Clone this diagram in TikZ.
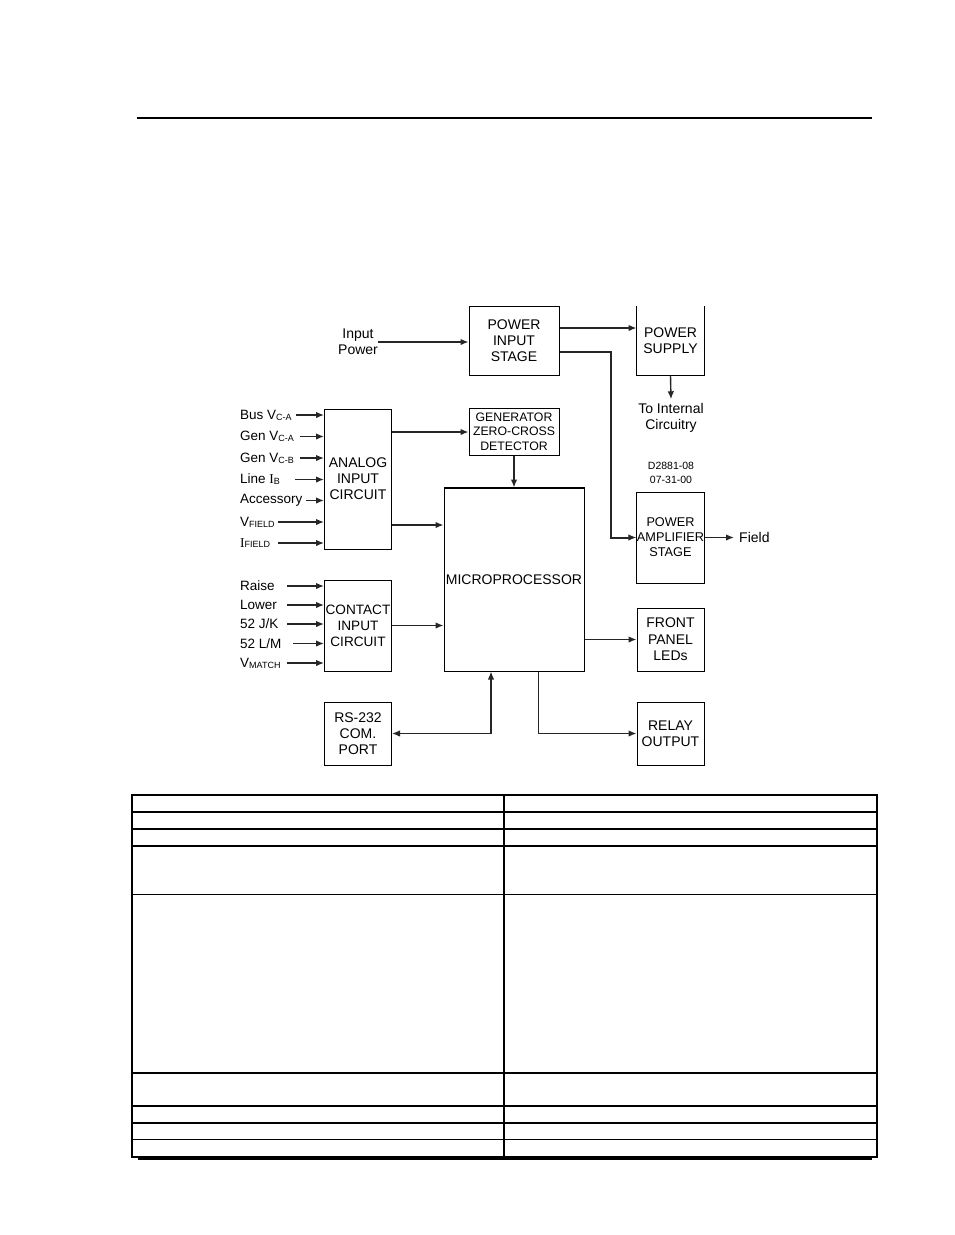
\documentclass[tikz,border=0pt]{standalone}
\usepackage{fontspec}
\setmainfont{Liberation Sans}
\newfontfamily\serifI{Liberation Serif}
\usetikzlibrary{arrows.meta}
\newcommand\subsc[1]{\raisebox{-0.8pt}{\fontsize{9}{9}\selectfont #1}}
\begin{document}
\begin{tikzpicture}[x=1pt,y=-1pt,
  ln/.style={line width=1.4pt,draw=black!85},
  arr/.style={ln,-{Latex[length=8pt,width=6.5pt]}},
  darr/.style={ln,{Latex[length=8pt,width=6.5pt]}-{Latex[length=8pt,width=6.5pt]}},
  blk/.style={draw=black,line width=1pt,inner sep=0pt,align=center,
    font=\fontsize{14}{16}\selectfont},
  lbl/.style={anchor=west,inner sep=0pt,font=\fontsize{13.5}{15}\selectfont},
  rule/.style={line width=1.4pt}]
\useasboundingbox (0,0) rectangle (954,1235);
\fill[white] (0,0) rectangle (954,1235);

% top rule
\draw[rule] (137,118) -- (872,118);

% blocks
\node[blk,minimum width=90pt,minimum height=69pt] (pis) at (514,340.5) {POWER\\INPUT\\STAGE};
\node[blk,draw=none,minimum width=67pt,minimum height=69pt] (ps) at (670.5,340.5) {POWER\\SUPPLY};
\draw[line width=1pt] (ps.north west) -- (ps.south west) -- (ps.south east) -- (ps.north east);
\node[blk,minimum width=90pt,minimum height=47pt,font=\fontsize{12.3}{14.5}\selectfont] (gzcd) at (514,431.5) {GENERATOR\\ZERO-CROSS\\DETECTOR};
\node[blk,minimum width=67pt,minimum height=140pt] (aic) at (358,479) {ANALOG\\INPUT\\CIRCUIT};
\node[blk,minimum width=140pt,minimum height=183pt] (micro) at (514,579.5) {MICROPROCESSOR};
\draw[line width=2pt] (micro.north west) -- (micro.north east);
\node[blk,minimum width=67pt,minimum height=91pt,font=\fontsize{13.6}{16}\selectfont] (cic) at (358,625.5) {CONTACT\\INPUT\\CIRCUIT};
\node[blk,minimum width=67pt,minimum height=91pt,font=\fontsize{12.7}{15}\selectfont] (pas) at (670.5,537.5) {POWER\\AMPLIFIER\\STAGE};
\node[blk,minimum width=67pt,minimum height=63pt,font=\fontsize{14}{16.5}\selectfont] (fpl) at (670.5,639.5) {FRONT\\PANEL\\LEDs};
\node[blk,minimum width=67pt,minimum height=63pt] (relay) at (670.5,733.5) {RELAY\\OUTPUT};
\node[blk,minimum width=67pt,minimum height=63pt] (rs) at (358,733.5) {RS-232\\COM.\\PORT};

% free labels
\node[inner sep=0pt,align=center,font=\fontsize{14}{16}\selectfont] (ip) at (358,342) {Input\\Power};
\node[inner sep=0pt,align=center,font=\fontsize{14}{16}\selectfont] (toint) at (671,418) {To Internal\\Circuitry};
\node[inner sep=0pt,align=center,font=\fontsize{10.5}{14}\selectfont] (dwg) at (671,473) {D2881-08\\07-31-00};
\node[inner sep=0pt,anchor=west,font=\fontsize{14}{16}\selectfont] (field) at (739,537.5) {Field};

% power connections
\draw[arr] (ip.east) -- (ip.east -| pis.west);
\draw[arr] ([yshift=12.5pt]pis.east) -- ([yshift=12.5pt]pis.east -| ps.west);
\draw[ln,line width=2pt,-{Latex[length=8pt,width=6.5pt]}] ([yshift=-11.5pt]pis.east) -- ++(51,0) |- (pas.west);
\draw[arr] (ps.south) -- ([yshift=4pt]toint.north);

% analog inputs
\node[lbl] (a1) at (240,415) {Bus V\subsc{C-A}};
\node[lbl] (a2) at (240,436.5) {Gen V\subsc{C-A}};
\node[lbl] (a3) at (240,458) {Gen V\subsc{C-B}};
\node[lbl] (a4) at (240,479.5) {Line {\serifI I}\subsc{B}};
\node[lbl] (a5) at (240,500.5) {Accessory};
\node[lbl] (a6) at (240,522) {V\subsc{FIELD}};
\node[lbl] (a7) at (240,543) {{\serifI I}\subsc{FIELD}};
\coordinate (s1) at (296,415);
\coordinate (s2) at (300,436.5);
\coordinate (s3) at (300,458);
\coordinate (s4) at (295,479.5);
\coordinate (s5) at (306,500.5);
\coordinate (s6) at (278,522);
\coordinate (s7) at (278,543);
\foreach \i in {1,...,7} \draw[arr] (s\i) -- (s\i -| aic.west);

% contact inputs
\node[lbl] (c1) at (240,586) {Raise};
\node[lbl] (c2) at (240,605) {Lower};
\node[lbl] (c3) at (240,624) {52 J/K};
\node[lbl] (c4) at (240,643.5) {52 L/M};
\node[lbl] (c5) at (240,663) {V\subsc{MATCH}};
\coordinate (t1) at (287,586);
\coordinate (t2) at (287,605);
\coordinate (t3) at (287,624);
\coordinate (t4) at (293,643.5);
\coordinate (t5) at (287,663);
\foreach \i in {1,...,5} \draw[arr] (t\i) -- (t\i -| cic.west);

% internal connections
\draw[arr] ([yshift=47pt]aic.east) -- ([yshift=47pt]aic.east -| gzcd.west);
\draw[arr] (gzcd.south) -- (micro.north);
\draw[arr] ([yshift=-46pt]aic.east) -- ([yshift=-46pt]aic.east -| micro.west);
\draw[arr] (cic.east) -- (cic.east -| micro.west);
\draw[arr] (pas.east) -- ([xshift=-5pt]field.west);
\draw[arr] (fpl.west -| micro.east) -- (fpl.west);
\draw[arr] ([xshift=24.5pt]micro.south) |- (relay.west);
\draw[darr] (rs.east) -| ([xshift=-23pt]micro.south);

% table
\draw[line width=1.3pt] (132,795) rectangle (877,1157);
\draw[line width=1.3pt] (504,795) -- (504,1157);
\foreach \yy in {812,829,846,894.5,1073,1106,1123,1139.5}
  \draw[line width=1.3pt] (132,\yy) -- (877,\yy);
\draw[line width=2.4pt] (138,1158.5) -- (872,1158.5);
\end{tikzpicture}
\end{document}
